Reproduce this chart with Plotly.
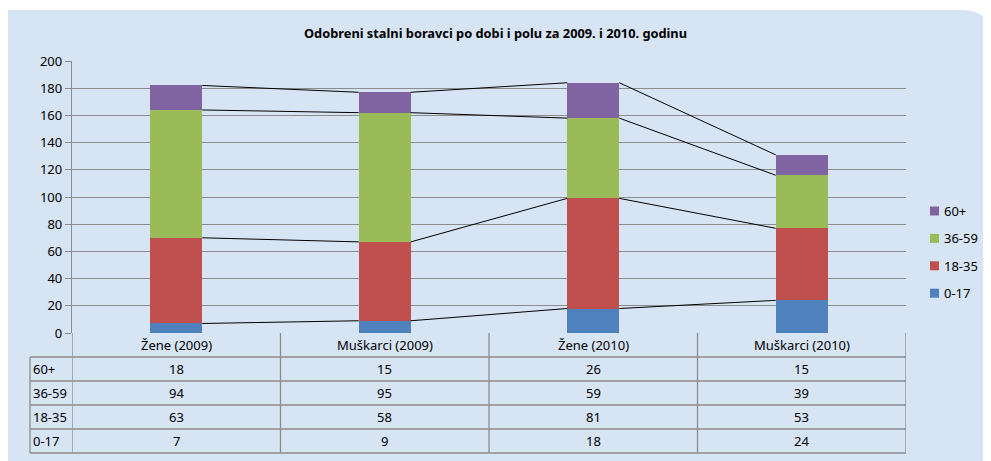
import plotly.graph_objects as go

categories = ["Žene (2009)", "Muškarci (2009)", "Žene (2010)", "Muškarci (2010)"]
series_names = ["0-17", "18-35", "36-59", "60+"]
v_0_17 = [7, 9, 18, 24]
v_18_35 = [63, 58, 81, 53]
v_36_59 = [94, 95, 59, 39]
v_60_plus = [18, 15, 26, 15]
y_ticks = list(range(0, 201, 20))
title = "Odobreni stalni boravci po dobi i polu za 2009. i 2010. godinu"

series_values = [v_0_17, v_18_35, v_36_59, v_60_plus]
colors = ["#4F81BD", "#C0504D", "#9BBB59", "#8064A2"]

# page body has an 8px margin: work in window pixels, convert to figure
OFF = 8
W, H = 991 - OFF, 461 - OFF
PLOT_L, PLOT_R, PLOT_T, PLOT_B = 72, 906, 61, 333  # window pixels
L, T = PLOT_L - OFF, PLOT_T - OFF
R, B = W - (PLOT_R - OFF), H - (PLOT_B - OFF)
PW, PH = PLOT_R - PLOT_L, PLOT_B - PLOT_T

def px(x):
    return (x - PLOT_L) / PW

def py(y):
    return (PLOT_B - y) / PH

FONT = "Noto Sans"
GRID = "#8C8C8C"
BAR_W = 0.25
xs = list(range(len(categories)))

fig = go.Figure()
for name, vals, col in zip(series_names, series_values, colors):
    fig.add_trace(go.Bar(x=xs, y=vals, name=name, marker=dict(color=col, line=dict(width=0)),
                         width=BAR_W, showlegend=False))

# series lines connecting segment tops
cum = [0] * len(categories)
for vals in series_values:
    cum = [c + v for c, v in zip(cum, vals)]
    lx, ly = [], []
    for i in range(len(categories) - 1):
        lx += [i + BAR_W / 2, i + 1 - BAR_W / 2, None]
        ly += [cum[i], cum[i + 1], None]
    fig.add_trace(go.Scatter(x=lx, y=ly, mode="lines", line=dict(color="black", width=1),
                             showlegend=False, hoverinfo="skip"))

shapes = []
# background panel
path = (f"M {px(8)},{py(10)} L {px(962)},{py(10)} Q {px(988)},{py(10)} {px(991)},{py(34)} "
        f"L {px(991)},{py(461)} L {px(8)},{py(461)} Z")
shapes.append(dict(type="path", xref="paper", yref="paper", path=path,
                   fillcolor="#D6E4F4", line=dict(width=0), layer="below"))

# data table
row_h = 24
top = PLOT_B
n_rows = len(series_names)
left_col = 30
bottom = top + (n_rows + 1) * row_h
for r in range(1, n_rows + 2):
    yy = top + r * row_h
    shapes.append(dict(type="line", xref="paper", yref="paper", x0=px(left_col), x1=1,
                       y0=py(yy), y1=py(yy), line=dict(color=GRID, width=1.3)))
shapes.append(dict(type="line", xref="paper", yref="paper", x0=px(left_col), x1=px(left_col),
                   y0=py(top + row_h), y1=py(bottom), line=dict(color=GRID, width=1.3)))
for k in range(len(categories) + 1):
    shapes.append(dict(type="line", xref="x", yref="paper", x0=k - 0.5, x1=k - 0.5,
                       y0=0, y1=py(bottom), line=dict(color=GRID, width=1.3)))

def ann(text, x, y, xref="paper", xanchor="center", size=13):
    return dict(text=text, xref=xref, yref="paper", x=x, y=y, xanchor=xanchor, yanchor="middle",
                showarrow=False, font=dict(family=FONT, size=size, color="black"))

annotations = [ann(f"<b>{title}</b>", px(495.5), py(33), size=12.8)]
for i, c in enumerate(categories):
    annotations.append(ann(c, i, py(top + row_h / 2), xref="x"))
for r, idx in enumerate(reversed(range(n_rows))):
    yc = py(top + (r + 1.5) * row_h)
    annotations.append(ann(series_names[idx], px(left_col + 1), yc, xanchor="left"))
    for i in range(len(categories)):
        annotations.append(ann(str(series_values[idx][i]), i, yc, xref="x"))

# legend (top entry = last series), drawn as swatches + labels
LEG_X, LEG_Y0, LEG_STEP, SW = 930, 211, 27.4, 9
for r, idx in enumerate(reversed(range(n_rows))):
    yc = LEG_Y0 + r * LEG_STEP
    shapes.append(dict(type="rect", xref="paper", yref="paper", x0=px(LEG_X), x1=px(LEG_X + SW),
                       y0=py(yc - SW / 2), y1=py(yc + SW / 2), fillcolor=colors[idx],
                       line=dict(width=0)))
    annotations.append(ann(series_names[idx], px(LEG_X + SW + 2.5), py(yc), xanchor="left"))

fig.update_layout(
    width=W, height=H, margin=dict(l=L, r=R, t=T, b=B, autoexpand=False),
    paper_bgcolor="white", plot_bgcolor="rgba(0,0,0,0)",
    barmode="stack", bargap=0,
    showlegend=False,
    xaxis=dict(range=[-0.5, len(categories) - 0.5], showticklabels=False, showgrid=False,
               zeroline=False, showline=False, fixedrange=True),
    yaxis=dict(range=[0, 200], tickvals=y_ticks, showgrid=True, gridcolor=GRID, gridwidth=1.3,
               zeroline=False, showline=True, linecolor=GRID, linewidth=1.3, ticks="outside",
               ticklen=6, tickcolor=GRID, tickfont=dict(family=FONT, size=13, color="black"),
               fixedrange=True),
    shapes=shapes, annotations=annotations,
)

fig.write_html("out.html")
